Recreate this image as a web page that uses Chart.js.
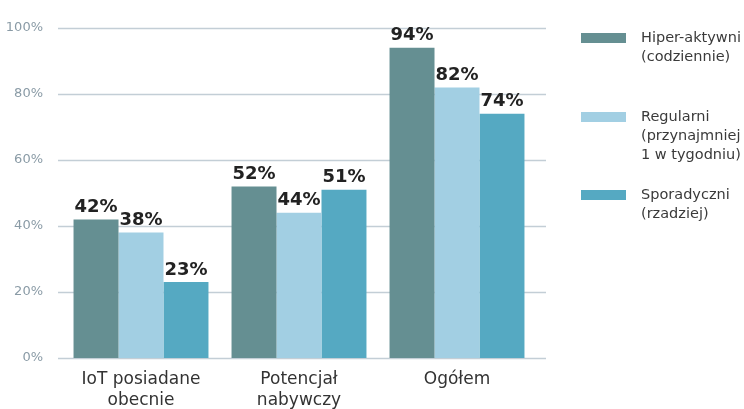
<!DOCTYPE html>
<html>
<head>
<meta charset="utf-8">
<script src="https://cdn.jsdelivr.net/npm/chart.js@4"></script>
<style>
  html, body { margin: 0; padding: 0; background: #fff; }
  #wrap { width: 744px; height: 409px; position: relative; }
</style>
</head>
<body>
<div id="wrap"><canvas id="chart"></canvas></div>
<script>
// categories and series (percent of users)
var categories = [["IoT posiadane", "obecnie"], ["Potencjał", "nabywczy"], "Ogółem"];
var hiperAktywni = [42, 52, 94];
var regularni = [38, 44, 82];
var sporadyczni = [23, 51, 74];
var seriesNames = [
  ["Hiper-aktywni", "(codziennie)"],
  ["Regularni", "(przynajmniej", "1 w tygodniu)"],
  ["Sporadyczni", "(rzadziej)"]
];
var colors = ["#658f92", "#a2cfe3", "#55a9c2"];
var fontFamily = "'DejaVu Sans', sans-serif";

//horizontal grid lines, a bit wider than the bar area
var wideGrid = {
  id: 'wideGrid',
  beforeDatasetsDraw: function(chart) {
    var ctx = chart.ctx;
    var y = chart.scales.y;
    ctx.save();
    ctx.strokeStyle = '#c3ced6';
    ctx.lineWidth = 1.5;
    y.ticks.forEach(function(t) {
      var py = Math.round(y.getPixelForValue(t.value)) + 0.5;
      ctx.beginPath();
      ctx.moveTo(58, py);
      ctx.lineTo(546, py);
      ctx.stroke();
    });
    ctx.restore();
  }
};

//value labels above each bar
var valueLabels = {
  id: 'valueLabels',
  afterDatasetsDraw: function(chart) {
    var ctx = chart.ctx;
    ctx.save();
    ctx.font = 'bold 18px ' + fontFamily;
    ctx.fillStyle = '#222';
    ctx.textAlign = 'center';
    ctx.textBaseline = 'bottom';
    chart.data.datasets.forEach(function(ds, i) {
      chart.getDatasetMeta(i).data.forEach(function(bar, j) {
        ctx.fillText(ds.data[j] + '%', bar.x, bar.y - 3);
      });
    });
    ctx.restore();
  }
};

//legend on the right with multi-line names
var sideLegend = {
  id: 'sideLegend',
  afterDraw: function(chart) {
    var ctx = chart.ctx;
    var tops = [33, 112, 190];
    ctx.save();
    ctx.font = '14.5px ' + fontFamily;
    ctx.textBaseline = 'middle';
    ctx.textAlign = 'left';
    chart.data.datasets.forEach(function(ds, i) {
      ctx.fillStyle = ds.backgroundColor;
      ctx.fillRect(581, tops[i], 45, 10);
      ctx.fillStyle = '#3a3a3a';
      seriesNames[i].forEach(function(line, k) {
        ctx.fillText(line, 641, tops[i] + 5 + k * 19);
      });
    });
    ctx.restore();
  }
};

var ctx = document.getElementById("chart").getContext('2d');

var myChart = new Chart(ctx, {
  type: 'bar',
  data: {
    labels: categories,
    datasets: [{
      label: "Hiper-aktywni (codziennie)",
      data: hiperAktywni,
      backgroundColor: colors[0]
    }, {
      label: "Regularni (przynajmniej 1 w tygodniu)",
      data: regularni,
      backgroundColor: colors[1]
    }, {
      label: "Sporadyczni (rzadziej)",
      data: sporadyczni,
      backgroundColor: colors[2]
    }]
  },
  options: {
    responsive: true,
    maintainAspectRatio: false,
    animation: false,
    layout: {
      padding: { top: 28, right: 208, left: 0, bottom: 0 }
    },
    datasets: {
      bar: { barPercentage: 1, categoryPercentage: 0.854 }
    },
    plugins: {
      legend: { display: false },
      tooltip: { enabled: false }
    },
    scales: {
      x: {
        grid: { display: false },
        border: { display: false },
        ticks: {
          color: '#333',
          padding: 4,
          font: { family: fontFamily, size: 17, lineHeight: 1.18 }
        },
        afterFit: function(scale) { scale.height = 51; }
      },
      y: {
        min: 0,
        max: 100,
        ticks: {
          stepSize: 20,
          padding: 19,
          color: '#8a9ba6',
          font: { family: fontFamily, size: 13 },
          callback: function(v) { return v + '%'; }
        },
        grid: { display: false, drawTicks: false },
        border: { display: false },
        afterFit: function(scale) { scale.width = 62; }
      }
    }
  },
  plugins: [wideGrid, valueLabels, sideLegend]
});
</script>
</body>
</html>
